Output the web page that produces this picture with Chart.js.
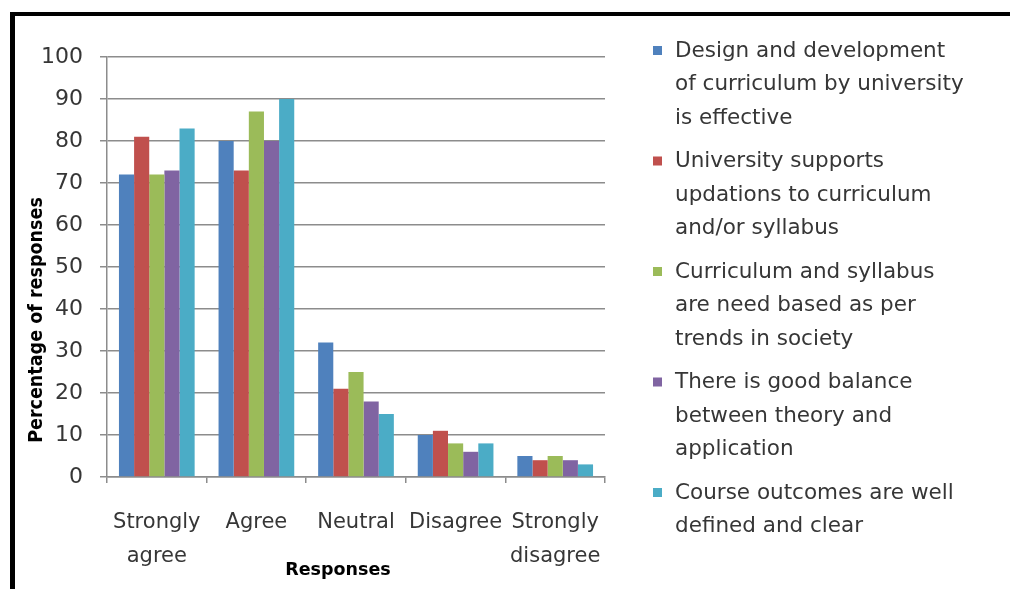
<!DOCTYPE html>
<html><head><meta charset="utf-8">
<script src="https://cdn.jsdelivr.net/npm/chart.js@4.4.1/dist/chart.umd.min.js"></script>
<style>
html,body{margin:0;padding:0;background:#fff;}
#wrap{position:relative;width:1010px;height:589px;overflow:hidden;background:#fff;}
#frame{position:absolute;left:10px;top:12px;width:1100px;height:700px;border-left:5px solid #000;border-top:4px solid #000;}
canvas{position:absolute;left:0;top:0;}
</style></head><body>
<div id="wrap"><div id="frame"></div><canvas id="c" width="1010" height="589"></canvas></div>
<script>
const categories = [["Strongly","agree"], "Agree", "Neutral", "Disagree", ["Strongly","disagree"]];
const seriesNames = [
  ["Design and development", "of curriculum by university", "is effective"],
  ["University supports", "updations to curriculum", "and/or syllabus"],
  ["Curriculum and syllabus", "are need based as per", "trends in society"],
  ["There is good balance", "between theory and", "application"],
  ["Course outcomes are well", "defined and clear"]
];
const seriesColors = ["#4F81BD", "#C0504D", "#9BBB59", "#8064A2", "#4BACC6"];
const designValues   = [72, 80, 32, 10, 5];
const supportValues  = [81, 73, 21, 11, 4];
const needValues     = [72, 87, 25, 8, 5];
const balanceValues  = [73, 80, 18, 6, 4];
const outcomeValues  = [83, 90, 15, 8, 3];
const seriesValues = [designValues, supportValues, needValues, balanceValues, outcomeValues];
const yTicks = [0,10,20,30,40,50,60,70,80,90,100];
const yTitle = "Percentage of responses";
const xTitle = "Responses";

const TEXT = '#363636';
const GRID = '#8c8c8c';

const sideLegend = {
  id: 'sideLegend',
  afterDraw(chart) {
    const ctx = chart.ctx;
    ctx.save();
    ctx.font = '21.5px "DejaVu Sans"';
    ctx.textBaseline = 'middle';
    ctx.textAlign = 'left';
    const y0 = 51, step = 110.5, lh = 33.5;
    chart.data.datasets.forEach((ds, i) => {
      const y = y0 + i * step;
      ctx.fillStyle = ds.backgroundColor;
      ctx.fillRect(653, y - 5, 9, 9);
      ctx.fillStyle = TEXT;
      ds.lines.forEach((ln, j) => ctx.fillText(ln, 675, y + j * lh));
    });
    // axis titles
    ctx.fillStyle = '#000';
    ctx.font = 'bold 19.5px "DejaVu Sans Condensed", "Liberation Sans Narrow", "Liberation Serif"';
    ctx.textAlign = 'center';
    ctx.save();
    ctx.translate(37, 320);
    ctx.rotate(-Math.PI / 2);
    ctx.fillText(yTitle, 0, 0);
    ctx.restore();
    ctx.font = 'bold 17.5px "DejaVu Sans"';
    ctx.fillText(xTitle, 338, 570);
    ctx.restore();
  }
};

new Chart(document.getElementById('c'), {
  type: 'bar',
  data: {
    labels: categories,
    datasets: seriesValues.map((vals, i) => ({
      label: seriesNames[i].join(' '),
      lines: seriesNames[i],
      data: vals,
      backgroundColor: seriesColors[i],
      borderWidth: 0,
      categoryPercentage: 0.76,
      barPercentage: 1.0
    }))
  },
  options: {
    responsive: false,
    animation: false,
    devicePixelRatio: 1,
    layout: { padding: { left: 0, top: 57, right: 405, bottom: 0 } },
    plugins: { legend: { display: false }, tooltip: { enabled: false } },
    scales: {
      x: {
        afterFit(s) { s.height = 112; },
        grid: { display: true, drawOnChartArea: false, drawTicks: true, tickLength: 6, color: GRID, lineWidth: 1.5, offset: true },
        border: { display: true, color: GRID, width: 1.5 },
        ticks: { color: TEXT, font: { family: '"DejaVu Sans"', size: 21, lineHeight: 1.6 }, padding: 23, maxRotation: 0, autoSkip: false }
      },
      y: {
        min: 0, max: 100,
        afterFit(s) { s.width = 107; },
        afterBuildTicks(s) { s.ticks = yTicks.map(v => ({ value: v })); },
        grid: { color: GRID, lineWidth: 1.5, tickLength: 7, drawTicks: true },
        border: { display: true, color: GRID, width: 1.5 },
        ticks: { color: TEXT, font: { family: '"DejaVu Sans"', size: 22 }, padding: 17 }
      }
    }
  },
  plugins: [sideLegend]
});
</script>
</body></html>
